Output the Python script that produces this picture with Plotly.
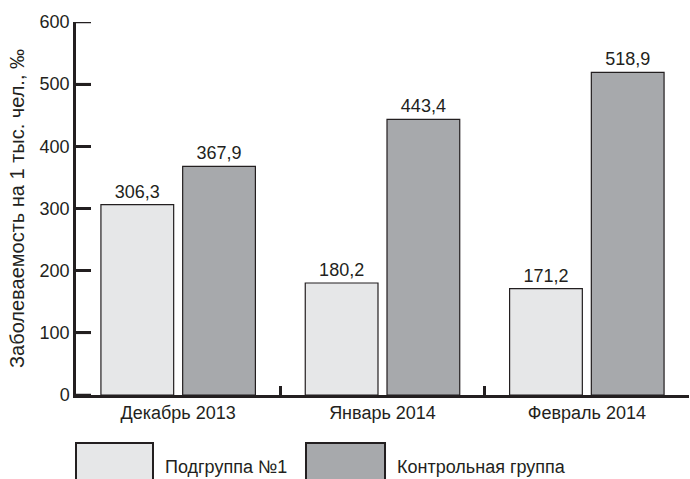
import plotly.graph_objects as go

categories = ["Декабрь 2013", "Январь 2014", "Февраль 2014"]
series_names = ["Подгруппа №1", "Контрольная группа"]
subgroup_values = [306.3, 180.2, 171.2]
control_values = [367.9, 443.4, 518.9]
y_ticks = [0, 100, 200, 300, 400, 500, 600]
y_title = "Заболеваемость на 1 тыс. чел., ‰"

colors = ["#e6e7e8", "#a7a9ac"]
outline = "#231f20"
FONT = "Liberation Sans, Arial, sans-serif"
FS = 18

def fmt(v):
    return f"{v:.1f}".replace(".", ",")

fig = go.Figure()
for name, vals, col in zip(series_names, [subgroup_values, control_values], colors):
    fig.add_trace(go.Bar(
        x=categories, y=vals, name=name,
        marker=dict(color=col, line=dict(color=outline, width=1.2)),
        text=[fmt(v) for v in vals], textposition="outside",
        textfont=dict(family=FONT, size=FS, color="#231f20"),
        cliponaxis=False, showlegend=False,
    ))

fig.update_layout(
    width=690, height=479,
    margin=dict(l=76, r=1, t=22, b=84),
    paper_bgcolor="white", plot_bgcolor="white",
    barmode="group", bargap=0.20, bargroupgap=0.11,
    font=dict(family=FONT, size=FS, color="#231f20"),
)
fig.update_xaxes(
    type="category", range=[-0.5, 2.5],
    showline=True, linecolor=outline, linewidth=2.5,
    ticks="inside", tickson="boundaries", ticklen=9, tickwidth=2.5, tickcolor=outline,
    tickfont=dict(family=FONT, size=FS, color="#231f20"),
    showgrid=False, zeroline=False,
)
fig.update_yaxes(
    range=[0, 600], tickvals=y_ticks,
    showline=True, linecolor=outline, linewidth=2.5,
    ticks="inside", ticklen=15, tickwidth=2.5, tickcolor=outline,
    tickfont=dict(family=FONT, size=FS, color="#231f20"),
    showgrid=False, zeroline=False,
    title=dict(text=y_title, font=dict(family=FONT, size=20, color="#231f20"), standoff=10),
)

# Inward y tick marks (explicit, so they are always drawn above the plot background)
for t in y_ticks:
    fig.add_shape(type="line", xref="paper", yref="y", x0=0, x1=15 / 613, y0=t, y1=t,
                  line=dict(color=outline, width=2.5), layer="above")

# Legend drawn as large swatches below the plot (paper coordinates)
legend_boxes = [(0.0, 0.1256), (0.3752, 0.5041)]
for (x0, x1), col, name in zip(legend_boxes, colors, series_names):
    fig.add_shape(type="rect", xref="paper", yref="paper",
                  x0=x0, x1=x1, y0=-0.25, y1=-0.1287,
                  fillcolor=col, line=dict(color=outline, width=2))
    fig.add_annotation(xref="paper", yref="paper", x=x1 + 0.017, y=-0.193,
                       xanchor="left", yanchor="middle", showarrow=False,
                       text=name, font=dict(family=FONT, size=FS, color="#231f20"))

fig.write_html("out.html")
